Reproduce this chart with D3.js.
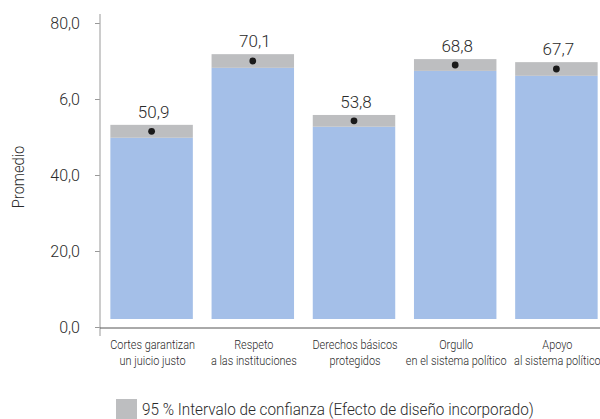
<!DOCTYPE html>
<html>
<head>
<meta charset="utf-8">
<script src="https://cdn.jsdelivr.net/npm/d3@7"></script>
<style>
  body { margin: 0; background: #fff; }
  svg { display: block; }
</style>
</head>
<body>
<svg id="chart" width="600" height="419"></svg>
<script>
// ---- data ----
const categories = [
  ["Cortes garantizan", "un juicio justo"],
  ["Respeto", "a las instituciones"],
  ["Derechos básicos", "protegidos"],
  ["Orgullo", "en el sistema político"],
  ["Apoyo", "al sistema político"]
];
const values   = [50.9, 70.1, 53.8, 68.8, 67.7];
const ciLower  = [49.8, 68.2, 52.7, 67.4, 66.1];
const ciUpper  = [53.2, 71.8, 55.8, 70.5, 69.7];
const tickValues = [0, 20, 40, 60, 80];
const tickLabels = ["0,0", "20,0", "40,0", "6,0", "80,0"];
const yTitle = "Promedio";
const legendLabel = "95 % Intervalo de confianza (Efecto de diseño incorporado)";

const fmt = v => v.toFixed(1).replace(".", ",");

const svg = d3.select("#chart");
const font = "Roboto, 'Liberation Sans', Arial, sans-serif";
const weight = 300;
const textColor = "#2a2a2a";

const y = d3.scaleLinear().domain([0, 80]).range([327, 23]);
const x = d3.scaleBand().domain(d3.range(categories.length))
  .range([101, 607]).paddingInner(0.185).paddingOuter(0.0925);

const barBottom = y(0) - 8;

// y axis
const yAxis = svg.append("g").attr("transform", "translate(100,0)")
  .call(d3.axisLeft(y).tickValues(tickValues).tickSize(5).tickPadding(15)
    .tickFormat((d, i) => tickLabels[i]));
yAxis.select(".domain").remove();
yAxis.selectAll(".tick line").attr("stroke", "#999");
yAxis.selectAll(".tick text").attr("fill", textColor).style("font-family", font)
  .style("font-weight", weight).style("font-size", "16px");
svg.append("line").attr("x1", 100).attr("x2", 100).attr("y1", y(80) - 9).attr("y2", y(0) + 9)
  .attr("stroke", "#aaa").attr("stroke-width", 1.2);

// x baseline
svg.append("line").attr("x1", 100).attr("x2", 600).attr("y1", y(0) + 1).attr("y2", y(0) + 1)
  .attr("stroke", "#555").attr("stroke-width", 1);

const data = values.map((v, i) => ({ i, v, lo: ciLower[i], hi: ciUpper[i], cat: categories[i] }));

// bars (blue up to lower CI)
svg.append("g").selectAll("rect.bar").data(data).join("rect")
  .attr("x", d => x(d.i)).attr("width", x.bandwidth())
  .attr("y", d => y(d.lo)).attr("height", d => barBottom - y(d.lo))
  .attr("fill", "#a4bfe8");

// CI band
svg.append("g").selectAll("rect.ci").data(data).join("rect")
  .attr("x", d => x(d.i)).attr("width", x.bandwidth())
  .attr("y", d => y(d.hi)).attr("height", d => y(d.lo) - y(d.hi))
  .attr("fill", "#bdbec0");

// dots
svg.append("g").selectAll("circle").data(data).join("circle")
  .attr("cx", d => x(d.i) + x.bandwidth() / 2)
  .attr("cy", d => (y(d.lo) + y(d.hi)) / 2)
  .attr("r", 3.4).attr("fill", "#1a1a1a");

// value labels
svg.append("g").selectAll("text").data(data).join("text")
  .attr("x", d => x(d.i) + x.bandwidth() / 2 + 2)
  .attr("y", d => y(d.hi) - 7)
  .attr("text-anchor", "middle")
  .style("font-family", font).style("font-weight", weight).style("font-size", "17px").attr("fill", textColor)
  .text(d => fmt(d.v));

// category labels (condensed)
const cl = svg.append("g").selectAll("text").data(data).join("text")
  .attr("text-anchor", "middle")
  .attr("transform", d => `translate(${x(d.i) + x.bandwidth() / 2 + 1},349) scale(0.84,1)`)
  .style("font-family", font).style("font-weight", weight).style("font-size", "13px").attr("fill", textColor);
cl.each(function(d) {
  const t = d3.select(this);
  d.cat.forEach((line, k) => {
    t.append("tspan").attr("x", 0).attr("y", k * 16).text(line);
  });
});

// y title
svg.append("text").attr("transform", `translate(24,${(y(0) + y(80)) / 2 + 2}) rotate(-90) scale(0.92,1)`)
  .attr("text-anchor", "middle")
  .style("font-family", font).style("font-weight", weight).style("font-size", "16px").attr("fill", textColor)
  .text(yTitle);

// legend
svg.append("rect").attr("x", 116).attr("y", 399).attr("width", 21).attr("height", 20).attr("fill", "#bdbec0");
svg.append("text").attr("transform", "translate(142,415) scale(0.9,1)")
  .style("font-family", font).style("font-weight", weight).style("font-size", "17px").attr("fill", textColor)
  .text(legendLabel);
</script>
</body>
</html>
